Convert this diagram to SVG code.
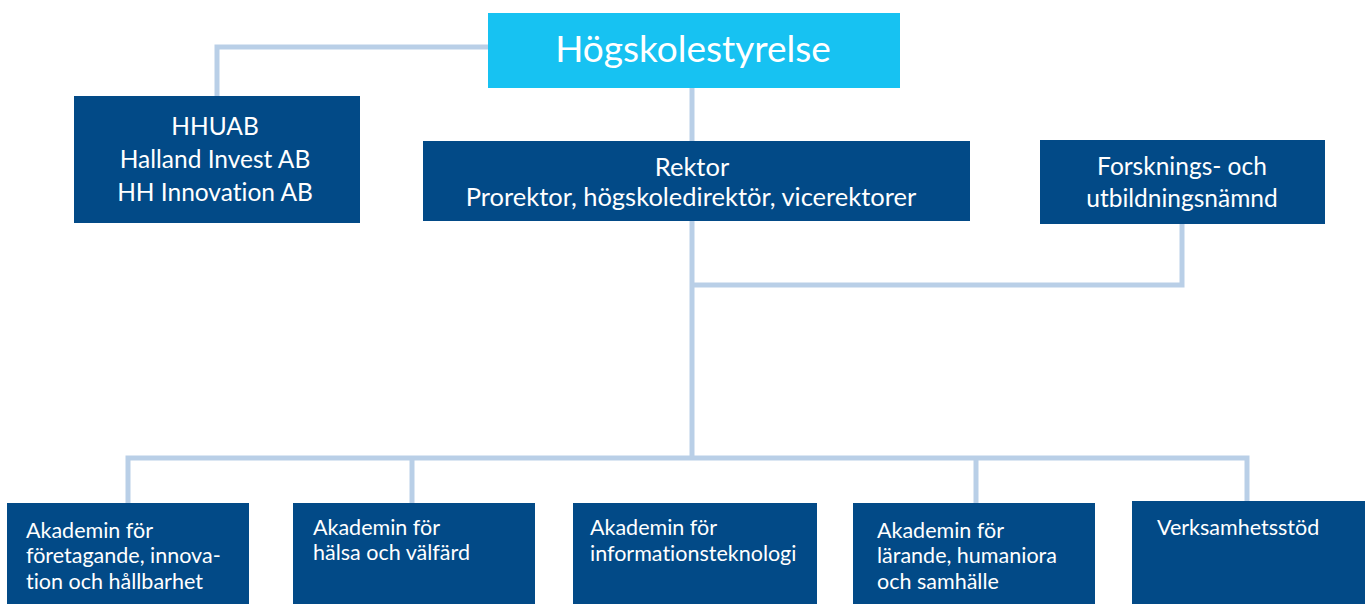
<svg xmlns="http://www.w3.org/2000/svg" width="1365" height="604" viewBox="0 0 1365 604">
<style>
.box{fill:#024a87}
.top{fill:#17c2f2}
.t{font-family:Lato,"Open Sans","Liberation Sans",sans-serif;fill:#fff;font-variant-ligatures:none;font-feature-settings:"liga" 0,"dlig" 0}
.c{text-anchor:middle;font-size:24.5px}
.l{font-size:21.5px}
.ln{fill:none;stroke:#b9cfe7;stroke-width:5}
</style>
<g id="connectors">
<path class="ln" d="M488,47 H217 V96"/>
<path class="ln" d="M692,88 V141"/>
<path class="ln" d="M692,221 V458"/>
<path class="ln" d="M1182,224 V285 H692"/>
<path class="ln" d="M128,503 V458 H1247 V501"/>
<path class="ln" d="M412,458 V503"/>
<path class="ln" d="M976,458 V503"/>
</g>
<g id="hogskolestyrelse">
<rect class="top" x="488" y="13" width="412" height="75"/>
<text class="t" x="693" y="62" text-anchor="middle" font-size="37">Högskolestyrelse</text>
</g>
<g id="hhuab">
<rect class="box" x="74" y="96" width="286" height="127"/>
<text class="t c" x="215" y="135">HHUAB</text>
<text class="t c" x="215" y="168">Halland Invest AB</text>
<text class="t c" x="215" y="201">HH Innovation AB</text>
</g>
<g id="rektor">
<rect class="box" x="423" y="141" width="547" height="80"/>
<text class="t c" x="692" y="176" style="font-size:25.5px">Rektor</text>
<text class="t c" x="691" y="206" style="font-size:25.5px">Prorektor, högskoledirektör, vicerektorer</text>
</g>
<g id="forskning">
<rect class="box" x="1040" y="140" width="285" height="84"/>
<text class="t c" x="1182" y="175">Forsknings- och</text>
<text class="t c" x="1182" y="207">utbildningsnämnd</text>
</g>
<g id="akademi-fih">
<rect class="box" x="7" y="503" width="242" height="101"/>
<text class="t l" x="26" y="538">Akademin för</text>
<text class="t l" x="26" y="563">företagande, innova-</text>
<text class="t l" x="26" y="589">tion och hållbarhet</text>
</g>
<g id="akademi-hv">
<rect class="box" x="293" y="503" width="242" height="101"/>
<text class="t l" x="313" y="535">Akademin för</text>
<text class="t l" x="313" y="560">hälsa och välfärd</text>
</g>
<g id="akademi-it">
<rect class="box" x="573" y="503" width="244" height="101"/>
<text class="t l" x="590" y="535">Akademin för</text>
<text class="t l" x="590" y="561">informationsteknologi</text>
</g>
<g id="akademi-lhs">
<rect class="box" x="853" y="503" width="242" height="101"/>
<text class="t l" x="877" y="538">Akademin för</text>
<text class="t l" x="877" y="563">lärande, humaniora</text>
<text class="t l" x="877" y="589">och samhälle</text>
</g>
<g id="verksamhetsstod">
<rect class="box" x="1132" y="501" width="233" height="103"/>
<text class="t l" x="1157" y="535">Verksamhetsstöd</text>
</g>
</svg>
